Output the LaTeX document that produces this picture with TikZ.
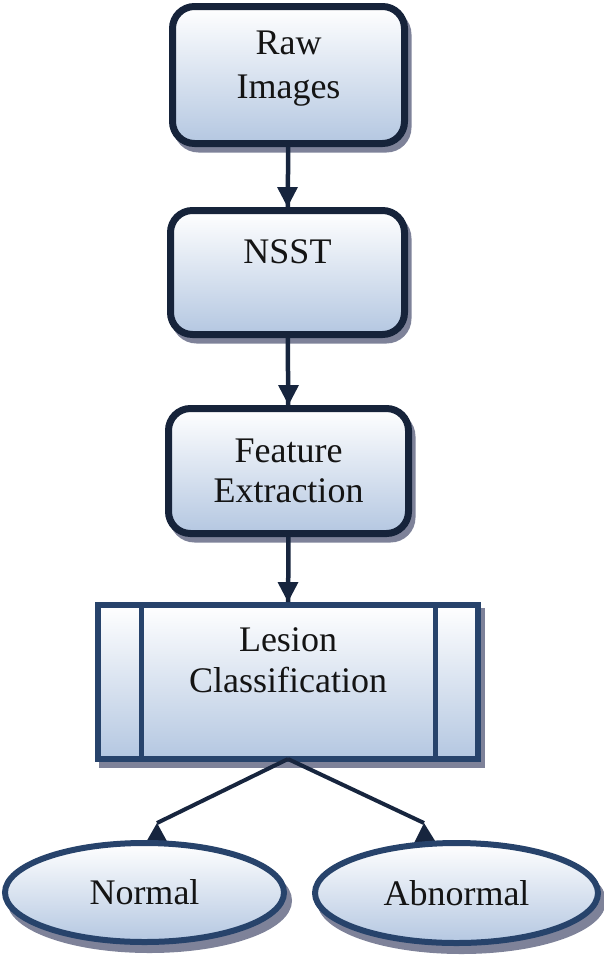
\documentclass[tikz,border=0pt]{standalone}
\usepackage{fontspec}
\setmainfont{Liberation Serif}
\usetikzlibrary{shadows,calc,shapes.geometric,backgrounds}
\definecolor{bordA}{HTML}{16233A}
\definecolor{bordB}{HTML}{27436B}
\definecolor{fillB}{HTML}{B4C7E1}
\definecolor{shad}{HTML}{7E8299}
\definecolor{arr}{HTML}{17253E}
\begin{document}
\begin{tikzpicture}[x=1pt,y=-1pt,
  base/.style={top color=white, bottom color=fillB, text=black!92,
    font=\fontsize{36}{41}\selectfont, align=center, inner sep=0pt},
  boxshadow/.style={drop shadow={shadow xshift=4pt, shadow yshift=-6pt, opacity=1,
      fill=shad, draw=shad, line width=6pt}},
  ovalshadow/.style={drop shadow={shadow xshift=5pt, shadow yshift=-8pt, opacity=1,
      fill=shad, draw=shad, line width=6pt}},
  rbox/.style={base, boxshadow, draw=bordA, line width=7pt, rounded corners=22pt},
  sbox/.style={base, boxshadow, draw=bordB, line width=6pt},
  oval/.style={base, ovalshadow, ellipse, draw=bordB, line width=6pt},
  link/.style={draw=arr, line width=4.5pt},
  dlink/.style={draw=arr, line width=4pt},
  tip/.style={fill=arr}]
\useasboundingbox (0,0) rectangle (603,956);

\node[rbox, minimum width=232pt, minimum height=137pt, text depth=20pt] (raw) at (288.5,75) {Raw\\[3pt]Images};
\node[rbox, minimum width=234pt, minimum height=124pt, text depth=41pt] (nsst) at (287.5,272.5) {NSST};
\node[rbox, minimum width=240pt, minimum height=125pt] (feat) at (288.5,471) {Feature\\[-1pt]Extraction};
\node[sbox, minimum width=380pt, minimum height=154pt, text depth=43pt] (cls) at (288,682) {Lesion\\Classification};
\draw[draw=bordB, line width=5pt] ([xshift=46.5pt]cls.north west) -- ([xshift=46.5pt]cls.south west);
\draw[draw=bordB, line width=5pt] ([xshift=-46pt]cls.north east) -- ([xshift=-46pt]cls.south east);

\node[oval, minimum width=279pt, minimum height=99pt] (normal) at (144.5,892.5) {Normal};
\node[oval, minimum width=283pt, minimum height=100pt] (abnormal) at (456.5,893) {Abnormal};

\draw[link] (raw) -- (nsst);
\fill[tip] (nsst.north) -- ++(-10.5,-20) -- ++(21,0) -- cycle;
\draw[link] (nsst) -- (feat);
\fill[tip] (feat.north) -- ++(-10.5,-20) -- ++(21,0) -- cycle;
\draw[link] (feat) -- (cls);
\fill[tip] (cls.north) -- ++(-10.5,-20) -- ++(21,0) -- cycle;

\draw[dlink] ([yshift=3pt]cls.south) -- ($(normal.north)+(12.5,-17)$) coordinate (ta);
\draw[dlink] ([yshift=3pt]cls.south) -- ($(abnormal.north)+(-32.5,-17)$) coordinate (tb);
\begin{pgfonlayer}{background}
\fill[tip] (ta) -- ($(normal.north)+(24,4)$) -- ($(normal.north)+(0.5,4)$) -- cycle;
\fill[tip] (tb) -- ($(abnormal.north)+(-19.5,4)$) -- ($(abnormal.north)+(-43,4)$) -- cycle;
\end{pgfonlayer}
\end{tikzpicture}
\end{document}
